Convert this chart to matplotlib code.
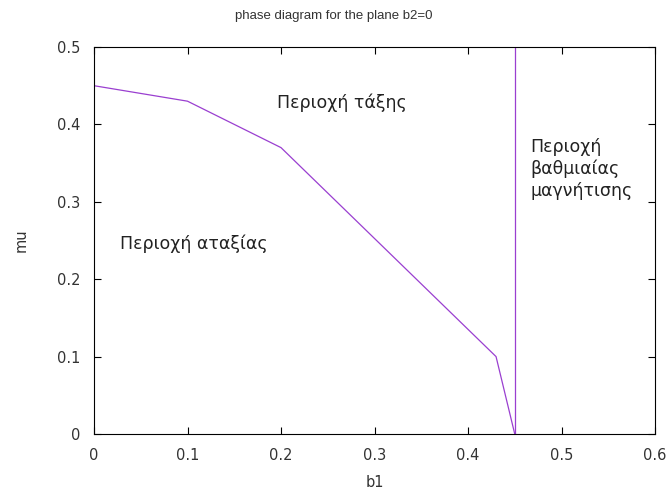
import matplotlib
matplotlib.use("Agg")
import matplotlib.pyplot as plt

# phase boundary points (b1, mu)
b1 = [0.0, 0.1, 0.2, 0.43, 0.45]
mu = [0.45, 0.43, 0.37, 0.1, 0.0]

# vertical boundary
b1_vert = [0.45, 0.45]
mu_vert = [0.0, 0.5]

xticks = [0, 0.1, 0.2, 0.3, 0.4, 0.5, 0.6]
xticklabels = ["0", "0.1", "0.2", "0.3", "0.4", "0.5", "0.6"]
yticks = [0, 0.1, 0.2, 0.3, 0.4, 0.5]
yticklabels = ["0", "0.1", "0.2", "0.3", "0.4", "0.5"]

plt.rcParams["font.family"] = ["DejaVu Sans"]

fig = plt.figure(figsize=(6.68, 4.96), dpi=100)
ax = fig.add_axes([94 / 668, 1 - 434 / 496, 561 / 668, 387 / 496])

line_color = "#9a3fd0"
ax.plot(b1, mu, color=line_color, linewidth=0.9)
ax.plot(b1_vert, mu_vert, color=line_color, linewidth=0.9)

ax.set_xlim(0, 0.6)
ax.set_ylim(0, 0.5)
ax.set_xticks(xticks)
ax.set_xticklabels(xticklabels)
ax.set_yticks(yticks)
ax.set_yticklabels(yticklabels)
ax.tick_params(direction="in", top=True, right=True, length=5, width=0.8,
               labelsize=10.5, colors="black", labelcolor="#333333")
ax.tick_params(axis="x", pad=10)
ax.tick_params(axis="y", pad=10)
for s in ax.spines.values():
    s.set_linewidth(0.8)

ax.set_xlabel("b1", fontsize=10.5, labelpad=9, color="#333333")
ax.set_ylabel("mu", fontsize=10.5, labelpad=20, color="#333333")
# gnuplot centres the title on the whole canvas, not on the plot area
fig.text(0.5, 1 - 16 / 496, "phase diagram for the plane b2=0", fontsize=9.5,
         ha="center", va="center", color="#333333", family=["Liberation Sans"])

greek = dict(fontsize=12.5, family=["DejaVu Sans"], color="#222222")
ax.text(0.196, 0.428, "Περιοχή τάξης", va="center", **greek)
ax.text(0.028, 0.2455, "Περιοχή αταξίας", va="center", **greek)
ax.text(0.467, 0.3424, "Περιοχή\nβαθμιαίας\nμαγνήτισης", linespacing=1.25,
        va="center", **greek)

fig.savefig("out.png", dpi=100)
